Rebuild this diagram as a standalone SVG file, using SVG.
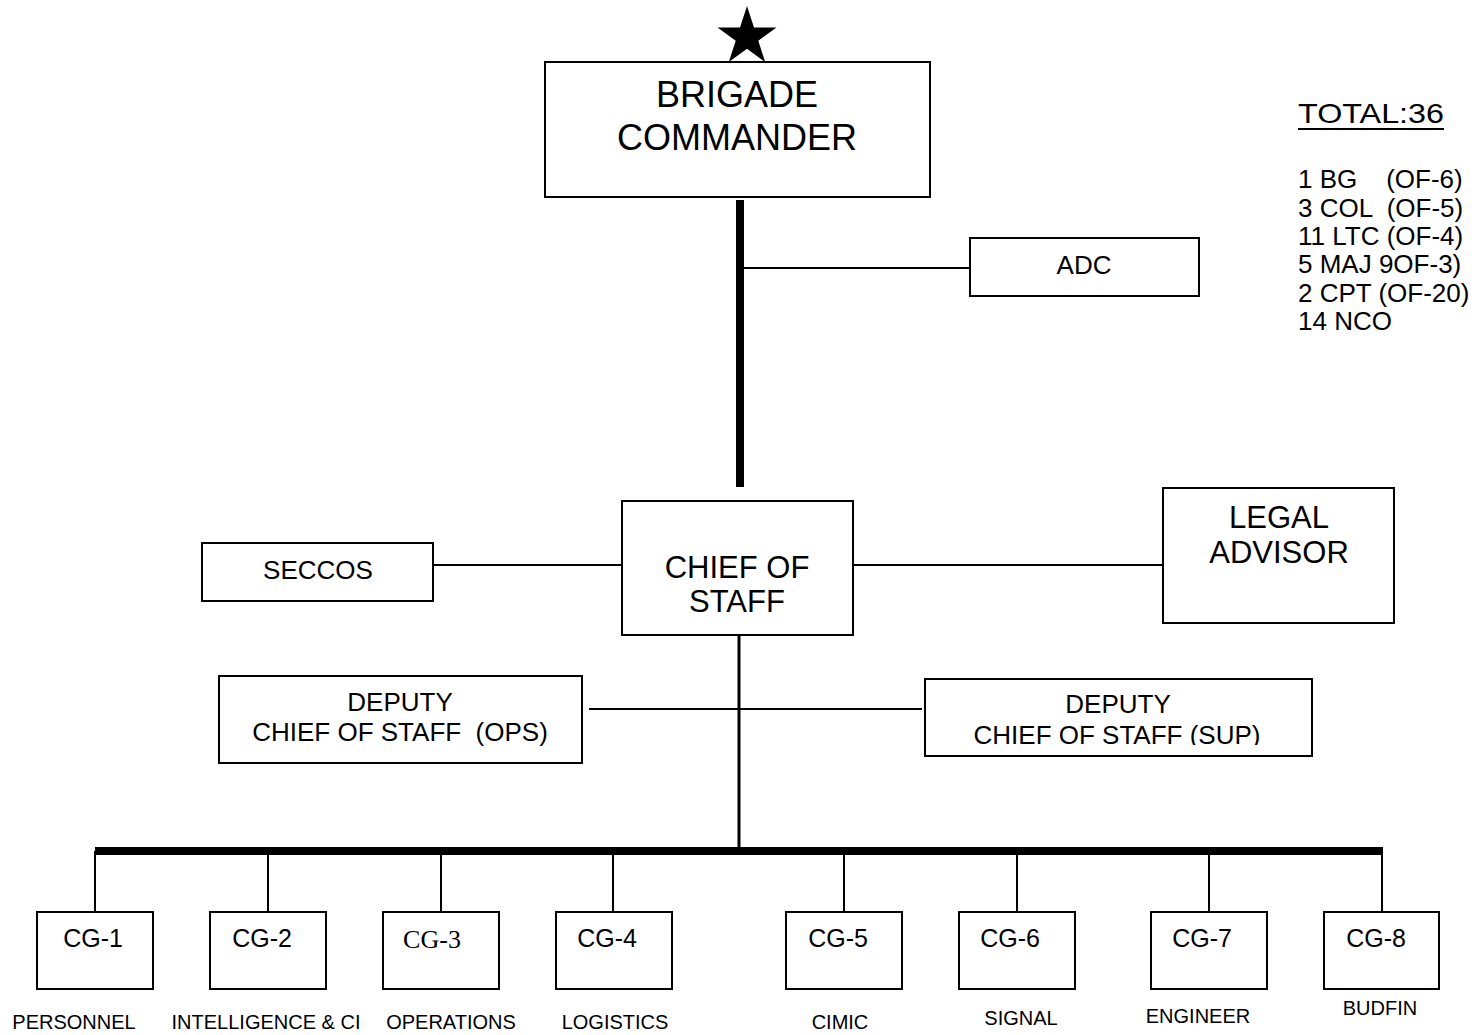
<svg xmlns="http://www.w3.org/2000/svg" width="1477" height="1035" viewBox="0 0 1477 1035">
<style>
.box{fill:#fff;stroke:#000;stroke-width:2}
.t{font-family:"Liberation Sans",Arial,sans-serif;fill:#000;text-anchor:middle}
.tl{font-family:"Liberation Sans",Arial,sans-serif;fill:#000;white-space:pre}
.ser{font-family:"Liberation Serif","Times New Roman",serif;fill:#000;text-anchor:middle}
.ln{stroke:#000;stroke-width:2;fill:none}
.thick{stroke:#000;stroke-width:8;fill:none}
</style>
<defs>
<clipPath id="supclip"><rect x="925" y="679" width="390" height="66"/></clipPath>
</defs>
<rect width="1477" height="1035" fill="#fff"/>
<g id="connectors">
<line class="thick" x1="740" y1="200" x2="740" y2="487"/>
<line class="ln" x1="744" y1="268" x2="970" y2="268"/>
<line class="ln" x1="433" y1="565" x2="622" y2="565"/>
<line class="ln" x1="853" y1="565" x2="1163" y2="565"/>
<line stroke="#000" stroke-width="3" x1="739" y1="635" x2="739" y2="851"/>
<line class="ln" x1="589" y1="709" x2="922" y2="709"/>
<line class="thick" x1="95" y1="851" x2="1383" y2="851"/>
<line class="ln" x1="95" y1="851" x2="95" y2="912"/>
<line class="ln" x1="268" y1="851" x2="268" y2="912"/>
<line class="ln" x1="441" y1="851" x2="441" y2="912"/>
<line class="ln" x1="613" y1="851" x2="613" y2="912"/>
<line class="ln" x1="844" y1="851" x2="844" y2="912"/>
<line class="ln" x1="1017" y1="851" x2="1017" y2="912"/>
<line class="ln" x1="1209" y1="851" x2="1209" y2="912"/>
<line class="ln" x1="1382" y1="851" x2="1382" y2="912"/>
</g>
<g id="brigade-commander">
<polygon points="747,6 754,27.4 776.5,27.4 758.3,40.7 765.2,62.1 747,48.8 728.8,62.1 735.7,40.7 717.5,27.4 740,27.4" fill="#000"/>
<rect class="box" x="545" y="62" width="385" height="135"/>
<text class="t" x="737" y="107" font-size="36">BRIGADE</text>
<text class="t" x="737" y="150" font-size="36">COMMANDER</text>
</g>
<g id="adc">
<rect class="box" x="970" y="238" width="229" height="58"/>
<text class="t" x="1084" y="274" font-size="26">ADC</text>
</g>
<g id="totals">
<text class="tl" x="1298" y="123" font-size="28" textLength="146" lengthAdjust="spacingAndGlyphs">TOTAL:36</text>
<line x1="1298" y1="129" x2="1444" y2="129" stroke="#000" stroke-width="2"/>
<text class="tl" x="1298" y="188" font-size="26" xml:space="preserve">1 BG    (OF-6)</text>
<text class="tl" x="1298" y="217" font-size="26" xml:space="preserve">3 COL  (OF-5)</text>
<text class="tl" x="1298" y="245" font-size="26">11 LTC (OF-4)</text>
<text class="tl" x="1298" y="273" font-size="26">5 MAJ 9OF-3)</text>
<text class="tl" x="1298" y="302" font-size="26">2 CPT (OF-20)</text>
<text class="tl" x="1298" y="330" font-size="26">14 NCO</text>
</g>
<g id="chief-of-staff">
<rect class="box" x="622" y="501" width="231" height="134"/>
<text class="t" x="737" y="578" font-size="31">CHIEF OF</text>
<text class="t" x="737" y="612" font-size="31">STAFF</text>
</g>
<g id="seccos">
<rect class="box" x="202" y="543" width="231" height="58"/>
<text class="t" x="318" y="579" font-size="26">SECCOS</text>
</g>
<g id="legal-advisor">
<rect class="box" x="1163" y="488" width="231" height="135"/>
<text class="t" x="1279" y="528" font-size="31">LEGAL</text>
<text class="t" x="1279" y="563" font-size="31">ADVISOR</text>
</g>
<g id="dcos-ops">
<rect class="box" x="219" y="676" width="363" height="87"/>
<text class="t" x="400" y="711" font-size="26">DEPUTY</text>
<text class="t" x="400" y="741" font-size="26" xml:space="preserve">CHIEF OF STAFF  (OPS)</text>
</g>
<g id="dcos-sup">
<rect class="box" x="925" y="679" width="387" height="77"/>
<text class="t" x="1118" y="713" font-size="26">DEPUTY</text>
<text class="t" x="1117" y="744" font-size="26" clip-path="url(#supclip)">CHIEF OF STAFF (SUP)</text>
</g>
<g id="cg-1">
<rect class="box" x="37" y="912" width="116" height="77"/>
<text class="t" x="93" y="947" font-size="25">CG-1</text>
<text class="t" x="74" y="1029" font-size="20">PERSONNEL</text>
</g>
<g id="cg-2">
<rect class="box" x="210" y="912" width="116" height="77"/>
<text class="t" x="262" y="947" font-size="25">CG-2</text>
<text class="t" x="266" y="1029" font-size="20">INTELLIGENCE &amp; CI</text>
</g>
<g id="cg-3">
<rect class="box" x="383" y="912" width="116" height="77"/>
<text class="ser" x="432" y="948" font-size="26">CG-3</text>
<text class="t" x="451" y="1029" font-size="20">OPERATIONS</text>
</g>
<g id="cg-4">
<rect class="box" x="556" y="912" width="116" height="77"/>
<text class="t" x="607" y="947" font-size="25">CG-4</text>
<text class="t" x="615" y="1029" font-size="20">LOGISTICS</text>
</g>
<g id="cg-5">
<rect class="box" x="786" y="912" width="116" height="77"/>
<text class="t" x="838" y="947" font-size="25">CG-5</text>
<text class="t" x="840" y="1029" font-size="20">CIMIC</text>
</g>
<g id="cg-6">
<rect class="box" x="959" y="912" width="116" height="77"/>
<text class="t" x="1010" y="947" font-size="25">CG-6</text>
<text class="t" x="1021" y="1025" font-size="20">SIGNAL</text>
</g>
<g id="cg-7">
<rect class="box" x="1151" y="912" width="116" height="77"/>
<text class="t" x="1202" y="947" font-size="25">CG-7</text>
<text class="t" x="1198" y="1023" font-size="20">ENGINEER</text>
</g>
<g id="cg-8">
<rect class="box" x="1324" y="912" width="115" height="77"/>
<text class="t" x="1376" y="947" font-size="25">CG-8</text>
<text class="t" x="1380" y="1015" font-size="20">BUDFIN</text>
</g>
</svg>
